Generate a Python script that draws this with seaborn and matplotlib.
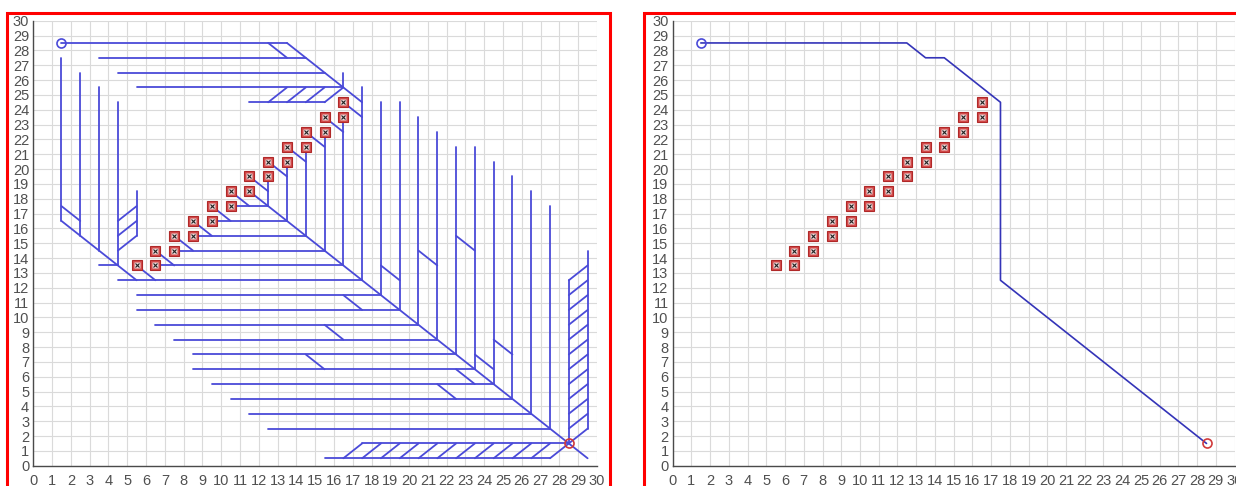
import numpy as np
import pandas as pd
import matplotlib
matplotlib.use("Agg")
import matplotlib.pyplot as plt
import seaborn as sns
from matplotlib.patches import Rectangle

# ---- data (grid cells are centred on .5) ----
start = (1.5, 28.5)
goal = (28.5, 1.5)

obstacle_x = [5.5, 6.5, 6.5, 7.5, 7.5, 8.5, 8.5, 9.5, 9.5, 10.5, 10.5, 11.5,
              11.5, 12.5, 12.5, 13.5, 13.5, 14.5, 14.5, 15.5, 15.5, 16.5, 16.5]
obstacle_y = [13.5, 13.5, 14.5, 14.5, 15.5, 15.5, 16.5, 16.5, 17.5, 17.5, 18.5, 18.5,
              19.5, 19.5, 20.5, 20.5, 21.5, 21.5, 22.5, 22.5, 23.5, 23.5, 24.5]

# horizontal tree edges: (y, x_from, x_to)
h_edges = [(28.5, 1.5, 13.5), (27.5, 3.5, 14.5), (26.5, 4.5, 15.5), (25.5, 5.5, 16.5),
           (24.5, 11.5, 15.5), (17.5, 10.5, 12.5), (16.5, 9.5, 13.5), (15.5, 8.5, 14.5),
           (14.5, 7.5, 15.5), (13.5, 3.5, 4.5), (13.5, 6.5, 16.5), (12.5, 4.5, 17.5),
           (11.5, 5.5, 18.5), (10.5, 5.5, 19.5), (9.5, 6.5, 20.5), (8.5, 7.5, 21.5),
           (7.5, 8.5, 22.5), (6.5, 8.5, 23.5), (5.5, 9.5, 24.5), (4.5, 10.5, 25.5),
           (3.5, 11.5, 26.5), (2.5, 12.5, 27.5), (1.5, 17.5, 28.5), (0.5, 15.5, 27.5)]

# vertical tree edges: (x, y_from, y_to)
v_edges = [(1.5, 27.5, 16.5), (2.5, 26.5, 15.5), (3.5, 25.5, 14.5), (4.5, 24.5, 13.5),
           (5.5, 18.5, 15.5), (12.5, 19.5, 17.5), (13.5, 20.5, 16.5), (14.5, 21.5, 15.5),
           (15.5, 22.5, 14.5), (16.5, 26.5, 25.5), (16.5, 23.5, 13.5), (17.5, 25.5, 12.5),
           (18.5, 24.5, 11.5), (19.5, 24.5, 10.5), (20.5, 23.5, 9.5), (21.5, 22.5, 8.5),
           (22.5, 21.5, 7.5), (23.5, 21.5, 6.5), (24.5, 20.5, 5.5), (25.5, 19.5, 4.5),
           (26.5, 18.5, 3.5), (27.5, 17.5, 2.5), (28.5, 12.5, 1.5), (29.5, 14.5, 2.5)]

# diagonal tree edges: (x0, y0, x1, y1)
d_edges = [(11.5, 18.5, 29.5, 0.5), (13.5, 28.5, 17.5, 24.5), (1.5, 16.5, 5.5, 12.5),
           (12.5, 28.5, 13.5, 27.5), (1.5, 17.5, 2.5, 16.5),
           (12.5, 24.5, 13.5, 25.5), (13.5, 24.5, 14.5, 25.5), (14.5, 24.5, 15.5, 25.5),
           (15.5, 24.5, 16.5, 25.5),
           (4.5, 16.5, 5.5, 17.5), (4.5, 15.5, 5.5, 16.5), (4.5, 14.5, 5.5, 15.5),
           (5.5, 13.5, 6.5, 12.5), (6.5, 14.5, 7.5, 13.5), (7.5, 15.5, 8.5, 14.5),
           (8.5, 16.5, 9.5, 15.5), (9.5, 17.5, 10.5, 16.5), (10.5, 18.5, 11.5, 17.5),
           (11.5, 19.5, 12.5, 18.5), (12.5, 20.5, 13.5, 19.5), (13.5, 21.5, 14.5, 20.5),
           (14.5, 22.5, 15.5, 21.5), (15.5, 23.5, 16.5, 22.5), (16.5, 24.5, 17.5, 23.5),
           (16.5, 11.5, 17.5, 10.5), (15.5, 9.5, 16.5, 8.5), (14.5, 7.5, 15.5, 6.5),
           (18.5, 13.5, 19.5, 12.5), (20.5, 14.5, 21.5, 13.5), (22.5, 15.5, 23.5, 14.5),
           (21.5, 5.5, 22.5, 4.5), (22.5, 6.5, 23.5, 5.5), (23.5, 7.5, 24.5, 6.5),
           (24.5, 8.5, 25.5, 7.5), (29.5, 2.5, 28.5, 1.5)]

# hatch rungs between the two bottom rows and the two right columns
bottom_rung_x = [16.5, 17.5, 18.5, 19.5, 20.5, 21.5, 22.5, 23.5, 24.5, 25.5, 26.5, 27.5]
right_rung_y = [2.5, 3.5, 4.5, 5.5, 6.5, 7.5, 8.5, 9.5, 10.5, 11.5, 12.5]

# final path (right panel)
path_x = [1.5, 12.5, 13.5, 14.5, 17.5, 17.5, 28.5]
path_y = [28.5, 28.5, 27.5, 27.5, 24.5, 12.5, 1.5]

ticks = list(range(0, 31))

# ---- build long table of segments ----
rows = []
for i, (y, x0, x1) in enumerate(h_edges):
    rows += [("h%d" % i, x0, y), ("h%d" % i, x1, y)]
for i, (x, y0, y1) in enumerate(v_edges):
    rows += [("v%d" % i, x, y0), ("v%d" % i, x, y1)]
for i, (x0, y0, x1, y1) in enumerate(d_edges):
    rows += [("d%d" % i, x0, y0), ("d%d" % i, x1, y1)]
for i, x in enumerate(bottom_rung_x):
    rows += [("b%d" % i, x, 0.5), ("b%d" % i, x + 1, 1.5)]
for i, y in enumerate(right_rung_y):
    rows += [("r%d" % i, 28.5, y), ("r%d" % i, 29.5, y + 1)]
tree = pd.DataFrame(rows, columns=["seg", "x", "y"])

sns.set_theme(style="whitegrid")
plt.rcParams["font.family"] = ["Liberation Sans", "DejaVu Sans"]

TREE_BLUE = "#4a4ad8"
PATH_BLUE = "#3434b8"

fig = plt.figure(figsize=(12.36, 4.86), dpi=100)
ax1 = fig.add_axes([33.3 / 1236, 20.3 / 486, 563.7 / 1236, 445.0 / 486])
ax2 = fig.add_axes([672.7 / 1236, 20.3 / 486, 561.9 / 1236, 445.0 / 486])


def style_axes(ax):
    ax.set_xlim(0, 30)
    ax.set_ylim(0, 30)
    ax.set_xticks(ticks)
    ax.set_yticks(ticks)
    ax.set_facecolor("white")
    ax.grid(True, color="#dadada", linewidth=0.8)
    for side in ["top", "right"]:
        ax.spines[side].set_visible(False)
    for side in ["left", "bottom"]:
        ax.spines[side].set_visible(True)
        ax.spines[side].set_color("#4a4a4a")
        ax.spines[side].set_linewidth(1.0)
    ax.tick_params(axis="both", direction="in", length=4.5, width=0.8, color="#4a4a4a",
                   labelcolor="#505050", labelsize=10.5)
    ax.tick_params(axis="x", pad=6)
    ax.tick_params(axis="y", pad=3)
    ax.set_xlabel("")
    ax.set_ylabel("")


def draw_obstacles(ax):
    ax.plot(obstacle_x, obstacle_y, "s", ms=7, mfc="#d24a4a", mec="#b02828", mew=0.8, zorder=5)
    ax.plot(obstacle_x, obstacle_y, "s", ms=3.8, mfc="#f0dada", mec="none", zorder=6)
    ax.plot(obstacle_x, obstacle_y, "x", ms=3.2, mec="#222222", mew=0.8, zorder=7)


# left: explored tree
sns.lineplot(data=tree, x="x", y="y", units="seg", estimator=None, sort=False,
             color=TREE_BLUE, linewidth=1.3, ax=ax1, legend=False, zorder=3)
draw_obstacles(ax1)
ax1.plot(*start, "o", ms=6.5, mfc="none", mec=TREE_BLUE, mew=1.2, zorder=8)
ax1.plot(*goal, "o", ms=6.5, mfc="none", mec="#d03a3a", mew=1.2, zorder=8)
style_axes(ax1)

# right: final path
sns.lineplot(x=path_x, y=path_y, estimator=None, sort=False, color=PATH_BLUE,
             linewidth=1.2, ax=ax2, legend=False, zorder=3)
draw_obstacles(ax2)
ax2.plot(*start, "o", ms=6.5, mfc="none", mec=TREE_BLUE, mew=1.2, zorder=8)
ax2.plot(*goal, "o", ms=6.5, mfc="none", mec="#d03a3a", mew=1.2, zorder=8)
style_axes(ax2)

# red frames around the two screenshots
fig.patches.append(Rectangle((7 / 1236, -0.02), 603 / 1236, 1.02 - 13 / 486,
                             transform=fig.transFigure, fill=False, edgecolor="#ff0000",
                             linewidth=2.2, zorder=10))
fig.patches.append(Rectangle((644 / 1236, -0.02), 600 / 1236, 1.02 - 13 / 486,
                             transform=fig.transFigure, fill=False, edgecolor="#ff0000",
                             linewidth=2.2, zorder=10))

fig.savefig("out.png", dpi=100, facecolor="white")
